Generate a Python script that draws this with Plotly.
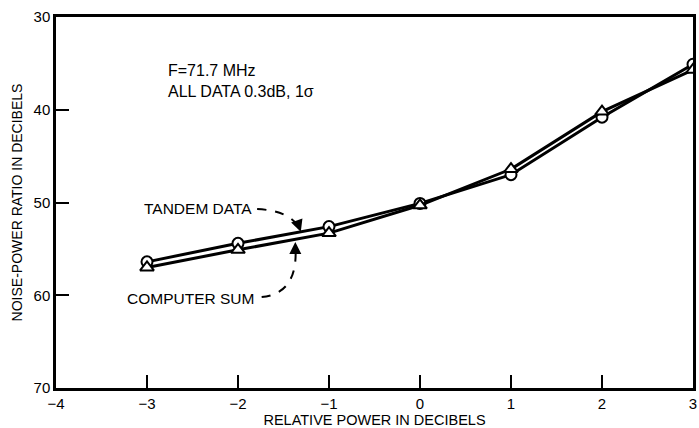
import plotly.graph_objects as go

relative_power = [-3, -2, -1, 0, 1, 2, 3]
tandem_data = [56.4, 54.4, 52.6, 50.1, 47.0, 40.8, 35.1]
computer_sum = [57.0, 55.1, 53.3, 50.3, 46.4, 40.2, 35.7]

x_ticks = [-4, -3, -2, -1, 0, 1, 2, 3]
y_ticks = [30, 40, 50, 60, 70]

FONT = "Liberation Sans, Arial, Helvetica, sans-serif"

fig = go.Figure()
fig.add_trace(go.Scatter(
    x=relative_power, y=tandem_data, mode="lines+markers", name="TANDEM DATA",
    line=dict(color="black", width=3),
    marker=dict(symbol="circle", size=11, color="white", line=dict(color="black", width=2)),
    showlegend=False,
))
fig.add_trace(go.Scatter(
    x=relative_power, y=computer_sum, mode="lines+markers", name="COMPUTER SUM",
    line=dict(color="black", width=3),
    marker=dict(symbol="triangle-up", size=12, color="white", line=dict(color="black", width=2)),
    showlegend=False,
))

# dashed curved leader lines
fig.add_shape(type="path", path="M -1.79,50.7 Q -1.42,50.9 -1.32,52.85",
              line=dict(color="black", width=2, dash="dash"), xref="x", yref="y")
fig.add_shape(type="path", path="M -1.74,60.2 Q -1.33,59.8 -1.37,54.6",
              line=dict(color="black", width=2, dash="dash"), xref="x", yref="y")
# arrowheads
fig.add_annotation(x=-1.31, y=53.15, ax=-1.33, ay=52.6, xref="x", yref="y", axref="x", ayref="y",
                   text="", showarrow=True, arrowhead=2, arrowsize=1.2, arrowwidth=2, arrowcolor="black")
fig.add_annotation(x=-1.37, y=54.25, ax=-1.37, ay=54.9, xref="x", yref="y", axref="x", ayref="y",
                   text="", showarrow=True, arrowhead=2, arrowsize=1.2, arrowwidth=2, arrowcolor="black")

fig.add_annotation(x=-1.82, y=50.6, xref="x", yref="y", text="TANDEM DATA", showarrow=False,
                   xanchor="right", yanchor="middle", font=dict(family=FONT, size=15.5, color="black"))
fig.add_annotation(x=-1.8, y=60.3, xref="x", yref="y", text="COMPUTER SUM", showarrow=False,
                   xanchor="right", yanchor="middle", font=dict(family=FONT, size=15.5, color="black"))
fig.add_annotation(x=-2.79, y=36.9, xref="x", yref="y",
                   text="F=71.7 MHz<br>ALL DATA 0.3dB, 1σ", showarrow=False, align="left",
                   xanchor="left", yanchor="middle", font=dict(family=FONT, size=16, color="black"))

fig.update_xaxes(
    range=[-4, 3], tickvals=x_ticks, ticktext=["\u2212" + str(-v) if v < 0 else str(v) for v in x_ticks],
    ticks="inside", ticklen=13, tickwidth=2, tickcolor="black",
    showline=True, linecolor="black", linewidth=2.5, mirror=True,
    showgrid=False, zeroline=False,
    title=dict(text="RELATIVE POWER IN DECIBELS", font=dict(family=FONT, size=14.5, color="black"), standoff=3),
    tickfont=dict(family=FONT, size=15, color="black"),
)
fig.update_yaxes(
    range=[70, 30], tickvals=y_ticks,
    ticks="inside", ticklen=13, tickwidth=2, tickcolor="black",
    showline=True, linecolor="black", linewidth=2.5, mirror=True,
    showgrid=False, zeroline=False,
    title=dict(text="NOISE-POWER RATIO IN DECIBELS", font=dict(family=FONT, size=14, color="black"), standoff=8),
    tickfont=dict(family=FONT, size=15, color="black"),
)
fig.update_layout(
    width=699, height=428,
    margin=dict(l=56, r=3, t=17, b=40),
    paper_bgcolor="white", plot_bgcolor="white",
    font=dict(family=FONT, size=14, color="black"),
)
fig.write_html("out.html")
